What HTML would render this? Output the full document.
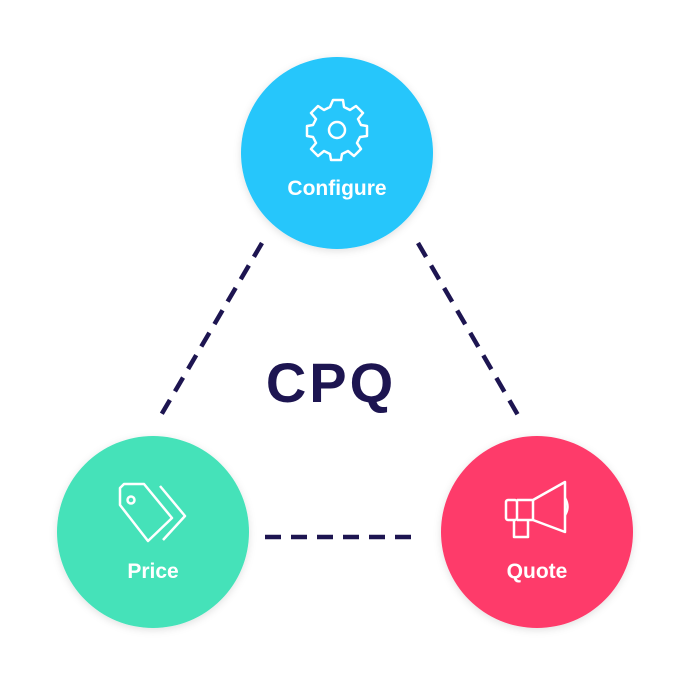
<!DOCTYPE html>
<html><head><style>
body{margin:0;background:#fff;}
svg{display:block}
</style></head><body>
<svg width="690" height="690" viewBox="0 0 690 690" xmlns="http://www.w3.org/2000/svg">
<defs>
<filter id="sh" x="-20%" y="-20%" width="140%" height="140%"><feDropShadow dx="0" dy="2" stdDeviation="4" flood-color="#000" flood-opacity="0.12"/></filter>
</defs>
<g stroke="#1d1551" stroke-width="4.5" stroke-dasharray="16 10" fill="none">
<line x1="262" y1="243" x2="157" y2="422"/>
<line x1="418" y1="243" x2="522" y2="422"/>
<line x1="265" y1="537" x2="420" y2="537"/>
</g>
<circle cx="337" cy="153" r="96" fill="#26c6fb" filter="url(#sh)"/>
<circle cx="153" cy="532" r="96" fill="#45e2b9" filter="url(#sh)"/>
<circle cx="537" cy="532" r="96" fill="#fe3b6a" filter="url(#sh)"/>
<text x="331" y="402" text-anchor="middle" font-family="Liberation Sans, sans-serif" font-weight="bold" font-size="56" letter-spacing="3" fill="#1d1551">CPQ</text>
<g font-family="Liberation Sans, sans-serif" font-weight="bold" font-size="21" fill="#fff" text-anchor="middle">
<text x="337" y="195">Configure</text>
<text x="153" y="578">Price</text>
<text x="537" y="578">Quote</text>
</g>
<g transform="translate(337,130)" fill="none" stroke="#fff" stroke-width="2.5" stroke-linejoin="round">
<path d="M-5,-26 L5,-26 L6,-19 L12,-16 L18,-20 L25,-13 L20,-7 L23,-1 L29,0 L29,10 L22,11 L19,17 L23,23 L16,30 L10,25 L4,28 L3,34 L-7,34 L-8,28 L-14,25 L-20,30 L-27,23 L-22,17 L-25,11 L-31,10 L-31,0 L-25,-1 L-22,-7 L-27,-13 L-20,-20 L-14,-16 L-8,-19 Z" transform="translate(1,-4)"/>
<circle cx="0" cy="0" r="8"/>
</g>
<g fill="none" stroke="#fff" stroke-width="2.5" stroke-linejoin="round">
<path d="M120,488 L120,505 L148,541 L172,518 L144,484 L124,484 Z"/>
<circle cx="131" cy="500" r="3.5"/>
<path d="M160,486 L185,516 L163,540"/>
</g>
<g fill="none" stroke="#fff" stroke-width="2.5" stroke-linejoin="round">
<rect x="506" y="500" width="11" height="20" rx="2"/>
<path d="M517,500 L533,500 L565,482 L565,532 L533,520 L517,520"/>
<path d="M533,500 L533,520"/>
<path d="M514,520 L514,537 L528,537 L528,520"/>
<path d="M565,498 Q570,507 565,515"/>
</g>
</svg>
</body></html>
